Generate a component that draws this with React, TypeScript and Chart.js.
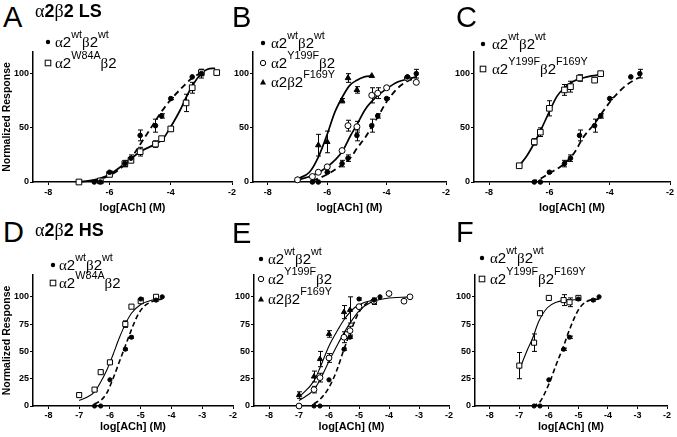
import React, { useEffect, useRef } from 'react';
import { Chart, registerables } from 'chart.js';

Chart.register(...registerables);

const FONT = "'Liberation Sans', Arial, Helvetica, sans-serif";
const SERIF = "'Liberation Serif', 'Times New Roman', serif";

// ---------- axis ranges & tick labels ----------
const X_MIN = -8.5;
const X_MAX = -2;
const Y_MIN = 0;
const Y_MAX = 120;
const TOP_X_TICKS = [-8, -6, -4, -2];
const BOTTOM_X_TICKS = [-8, -7, -6, -5, -4, -3, -2];
const TOP_Y_TICKS = [0, 50, 100];
const BOTTOM_Y_TICKS = [0, 25, 50, 75, 100];
const X_TITLE = 'log[ACh] (M)';
const Y_TITLE = 'Normalized Response';

// ---------- legend labels ----------
const LBL_WT = 'α2^{wt}β2^{wt}';
const LBL_W84A = 'α2^{W84A}β2';
const LBL_Y199F = 'α2^{Y199F}β2';
const LBL_F169Y = 'α2β2^{F169Y}';
const LBL_DM = 'α2^{Y199F}β2^{F169Y}';

// ---------- α2β2 LS : wild type (panels A, B, C) ----------
const LS_WT_X = [-6.5, -6.3, -6, -5.5, -5.3, -5, -4.5, -4.3, -4, -3.3, -3];
const LS_WT_Y = [0, 0, 9, 17, 22, 43, 52, 61, 77, 97, 100];
const LS_WT_ERR = [0, 0, 1, 3, 3, 5, 6, 2, 1, 0, 4];

// Panel A
const A_W84A_X = [-7, -6.3, -6, -5.5, -5.3, -5, -4.5, -4.3, -4, -3.5, -3.3, -3, -2.5];
const A_W84A_Y = [0, 1, 7, 17, 20, 28, 35, 40, 49, 73, 87, 101, 101];
const A_W84A_ERR = [0, 0, 1, 2, 2, 4, 3, 1, 2, 8, 5, 3, 0];
const A_WT_FIT_X = [-6.5, -6, -5.5, -5.2, -4.9, -4.6, -4.3, -4, -3.6, -3.3, -3];
const A_WT_FIT_Y = [1, 6, 16, 26, 39, 52, 65, 76, 88, 96, 101];
const A_W84A_FIT_X = [-7, -6.5, -6, -5.5, -5, -4.5, -4.25, -4, -3.7, -3.5, -3.25, -3, -2.8, -2.55];
const A_W84A_FIT_Y = [0, 2, 7, 17, 28, 35, 40, 51, 66, 78, 91, 100, 104, 105];

// Panel B
const B_Y199F_X = [-7, -6.5, -6.3, -6, -5.5, -5.3, -5, -4.5, -4.3, -4, -3.3, -3];
const B_Y199F_Y = [2, 5, 9, 14, 29, 52, 51, 80, 82, 87, 96, 92];
const B_Y199F_ERR = [0, 0, 1, 1, 1, 5, 5, 7, 5, 1, 0, 1];
const B_F169Y_X = [-7, -6.3, -6, -5.5, -5.3, -5, -4.5];
const B_F169Y_Y = [2, 34, 37, 75, 96, 85, 98];
const B_F169Y_ERR = [0, 10, 10, 2, 4, 3, 0];
const B_WT_FIT_X = [-6.5, -6, -5.5, -5.2, -5, -4.7, -4.5, -4.3, -4, -3.65, -3.3, -3];
const B_WT_FIT_Y = [1, 7, 16, 23, 31, 42, 51, 60, 74, 86, 93, 96];
const B_Y199F_FIT_X = [-7, -6.5, -6, -5.5, -5.23, -5, -4.72, -4.33, -4, -3.65, -3.3, -3];
const B_Y199F_FIT_Y = [2, 6, 14, 28, 42, 53, 67, 79, 86, 92, 95, 97];
const B_F169Y_FIT_X = [-7, -6.6, -6.3, -6, -5.75, -5.5, -5.25, -5, -4.75, -4.5];
const B_F169Y_FIT_Y = [3, 9, 23, 44, 64, 78, 89, 94, 97, 98];

// Panel C
const C_DM_X = [-7, -6.5, -6.3, -6, -5.5, -5.3, -5, -4.5, -4.3];
const C_DM_Y = [15, 37, 46, 68, 85, 88, 96, 94, 100];
const C_DM_ERR = [1, 3, 4, 7, 5, 5, 3, 0, 0];
const C_WT_FIT_X = [-6.6, -6.3, -6, -5.5, -5.15, -4.88, -4.5, -4.2, -3.87, -3.42, -3];
const C_WT_FIT_Y = [0, 3, 8, 17, 28, 41, 54, 66, 78, 90, 97];
const C_DM_FIT_X = [-7, -6.75, -6.5, -6.3, -6, -5.75, -5.5, -5.2, -4.9, -4.6, -4.3];
const C_DM_FIT_Y = [15, 24, 36, 47, 65, 79, 87, 93, 96, 98, 99];

// ---------- α2β2 HS : wild type (panels D, E, F) ----------
const HS_WT_X = [-6.5, -6.3, -6, -5.5, -5.3, -5, -4.5, -4.3];
const HS_WT_Y = [0, 0, 24, 52, 63, 98, 97, 100];
const HS_WT_ERR = [0, 0, 0, 1, 1, 1, 1, 0];

// Panel D
const D_W84A_X = [-7, -6.5, -6.3, -6, -5.5, -5.3, -5, -4.5];
const D_W84A_Y = [10, 15, 31, 40, 75, 91, 96, 100];
const D_W84A_ERR = [2, 1, 1, 1, 3, 1, 2, 1];
const D_WT_FIT_X = [-6.5, -6.3, -6.1, -5.9, -5.7, -5.5, -5.3, -5.1, -4.9, -4.6, -4.3];
const D_WT_FIT_Y = [2, 5, 12, 25, 40, 55, 70, 83, 91, 96, 98];
const D_W84A_FIT_X = [-7, -6.75, -6.5, -6.3, -6.1, -5.9, -5.7, -5.5, -5.3, -5, -4.75, -4.5];
const D_W84A_FIT_Y = [5, 8, 13, 22, 33, 47, 62, 75, 85, 93, 96, 98];

// Panel E
const E_Y199F_X = [-7, -6.5, -6.3, -6, -5.5, -5.3, -5, -4.5, -4, -3.5, -3.3];
const E_Y199F_Y = [0, 15, 26, 44, 63, 69, 91, 96, 103, 96, 100];
const E_Y199F_ERR = [0, 3, 4, 4, 5, 4, 2, 2, 0, 0, 0];
const E_F169Y_X = [-7, -6.5, -6.3, -6, -5.5, -5.3, -4.5];
const E_F169Y_Y = [10, 27, 43, 66, 86, 88, 96];
const E_F169Y_ERR = [3, 5, 7, 3, 6, 12, 3];
const E_WT_FIT_X = [-6.5, -6.3, -6, -5.75, -5.5, -5.27, -5, -4.7, -4.25];
const E_WT_FIT_Y = [2, 6, 17, 32, 52, 69, 86, 95, 99];
const E_Y199F_FIT_X = [-7, -6.5, -6.3, -6, -5.7, -5.5, -5.25, -5, -4.6, -4.1, -3.3];
const E_Y199F_FIT_Y = [5, 15, 24, 41, 57, 67, 78, 87, 95, 98.5, 100];
const E_F169Y_FIT_X = [-7, -6.5, -6.3, -6, -5.7, -5.5, -5.15, -4.8, -4.5];
const E_F169Y_FIT_Y = [8, 23, 35, 55, 70, 79, 90, 95, 97];

// Panel F
const F_DM_X = [-7, -6.5, -6.3, -6, -5.5, -5.3, -5];
const F_DM_Y = [37, 58, 85, 99, 97, 95, 99];
const F_DM_ERR = [12, 8, 1, 0, 5, 4, 0];
const F_WT_FIT_X = [-6.55, -6.3, -6, -5.75, -5.5, -5.3, -5, -4.7, -4.3];
const F_WT_FIT_Y = [0, 4, 20, 38, 55, 70, 88, 96, 98];
const F_DM_FIT_X = [-7, -6.75, -6.55, -6.35, -6.05, -5.75, -5.35, -5];
const F_DM_FIT_Y = [33, 50, 62, 77, 90, 95, 97, 97.5];

// ---------- types ----------
type Marker = 'dot' | 'square' | 'circle' | 'triangle';
type Series = { x: number[]; y: number[]; err: number[]; marker: Marker };
type Curve = { x: number[]; y: number[]; dashed: boolean };
type LegendRow = { marker: Marker; label: string };
type PanelCfg = {
  letter: string;
  title?: string;
  left: number; right: number; top: number; bottom: number;
  row: 'top' | 'bottom';
  yTitle: boolean;
  series: Series[];
  curves: Curve[];
  legend: LegendRow[];
  legendMarkerX: number;
  legendTextX: number;
  legendY: number[];
  letterX: number;
  letterY: number;
};

const PANELS: PanelCfg[] = [
  {
    letter: 'A', title: 'α2β2 LS', left: 33, right: 232, top: 52, bottom: 182, row: 'top', yTitle: true,
    series: [
      { x: LS_WT_X, y: LS_WT_Y, err: LS_WT_ERR, marker: 'dot' },
      { x: A_W84A_X, y: A_W84A_Y, err: A_W84A_ERR, marker: 'square' },
    ],
    curves: [
      { x: A_WT_FIT_X, y: A_WT_FIT_Y, dashed: true },
      { x: A_W84A_FIT_X, y: A_W84A_FIT_Y, dashed: false },
    ],
    legend: [{ marker: 'dot', label: LBL_WT }, { marker: 'square', label: LBL_W84A }],
    legendMarkerX: 48, legendTextX: 55, legendY: [42, 63], letterX: 3, letterY: 3,
  },
  {
    letter: 'B', left: 253, right: 446, top: 52, bottom: 182, row: 'top', yTitle: false,
    series: [
      { x: LS_WT_X, y: LS_WT_Y, err: LS_WT_ERR, marker: 'dot' },
      { x: B_Y199F_X, y: B_Y199F_Y, err: B_Y199F_ERR, marker: 'circle' },
      { x: B_F169Y_X, y: B_F169Y_Y, err: B_F169Y_ERR, marker: 'triangle' },
    ],
    curves: [
      { x: B_WT_FIT_X, y: B_WT_FIT_Y, dashed: true },
      { x: B_Y199F_FIT_X, y: B_Y199F_FIT_Y, dashed: false },
      { x: B_F169Y_FIT_X, y: B_F169Y_FIT_Y, dashed: false },
    ],
    legend: [
      { marker: 'dot', label: LBL_WT },
      { marker: 'circle', label: LBL_Y199F },
      { marker: 'triangle', label: LBL_F169Y },
    ],
    legendMarkerX: 263, legendTextX: 271, legendY: [43, 62.5, 82], letterX: 232, letterY: 3,
  },
  {
    letter: 'C', left: 474, right: 670, top: 52, bottom: 182, row: 'top', yTitle: false,
    series: [
      { x: LS_WT_X, y: LS_WT_Y, err: LS_WT_ERR, marker: 'dot' },
      { x: C_DM_X, y: C_DM_Y, err: C_DM_ERR, marker: 'square' },
    ],
    curves: [
      { x: C_WT_FIT_X, y: C_WT_FIT_Y, dashed: true },
      { x: C_DM_FIT_X, y: C_DM_FIT_Y, dashed: false },
    ],
    legend: [{ marker: 'dot', label: LBL_WT }, { marker: 'square', label: LBL_DM }],
    legendMarkerX: 483, legendTextX: 492, legendY: [44, 69], letterX: 456, letterY: 3,
  },
  {
    letter: 'D', title: 'α2β2 HS', left: 33, right: 233, top: 275, bottom: 406, row: 'bottom', yTitle: true,
    series: [
      { x: HS_WT_X, y: HS_WT_Y, err: HS_WT_ERR, marker: 'dot' },
      { x: D_W84A_X, y: D_W84A_Y, err: D_W84A_ERR, marker: 'square' },
    ],
    curves: [
      { x: D_WT_FIT_X, y: D_WT_FIT_Y, dashed: true },
      { x: D_W84A_FIT_X, y: D_W84A_FIT_Y, dashed: false },
    ],
    legend: [{ marker: 'dot', label: LBL_WT }, { marker: 'square', label: LBL_W84A }],
    legendMarkerX: 53, legendTextX: 59, legendY: [265, 283], letterX: 3, letterY: 218,
  },
  {
    letter: 'E', left: 254, right: 449, top: 275, bottom: 406, row: 'bottom', yTitle: false,
    series: [
      { x: HS_WT_X, y: HS_WT_Y, err: HS_WT_ERR, marker: 'dot' },
      { x: E_Y199F_X, y: E_Y199F_Y, err: E_Y199F_ERR, marker: 'circle' },
      { x: E_F169Y_X, y: E_F169Y_Y, err: E_F169Y_ERR, marker: 'triangle' },
    ],
    curves: [
      { x: E_WT_FIT_X, y: E_WT_FIT_Y, dashed: true },
      { x: E_Y199F_FIT_X, y: E_Y199F_FIT_Y, dashed: false },
      { x: E_F169Y_FIT_X, y: E_F169Y_FIT_Y, dashed: false },
    ],
    legend: [
      { marker: 'dot', label: LBL_WT },
      { marker: 'circle', label: LBL_Y199F },
      { marker: 'triangle', label: LBL_F169Y },
    ],
    legendMarkerX: 261, legendTextX: 268, legendY: [259, 279, 299], letterX: 232, letterY: 219,
  },
  {
    letter: 'F', left: 475, right: 667, top: 275, bottom: 406, row: 'bottom', yTitle: false,
    series: [
      { x: HS_WT_X, y: HS_WT_Y, err: HS_WT_ERR, marker: 'dot' },
      { x: F_DM_X, y: F_DM_Y, err: F_DM_ERR, marker: 'square' },
    ],
    curves: [
      { x: F_WT_FIT_X, y: F_WT_FIT_Y, dashed: true },
      { x: F_DM_FIT_X, y: F_DM_FIT_Y, dashed: false },
    ],
    legend: [{ marker: 'dot', label: LBL_WT }, { marker: 'square', label: LBL_DM }],
    legendMarkerX: 482, legendTextX: 490, legendY: [258, 279], letterX: 456, letterY: 218,
  },
];

// ---------- error bar plugin ----------
const errorBarPlugin = {
  id: 'errorBars',
  beforeDatasetsDraw(chart: any) {
    const { ctx, scales } = chart;
    const xs = scales.x;
    const ys = scales.y;
    ctx.save();
    ctx.strokeStyle = '#000';
    ctx.lineWidth = 1;
    chart.data.datasets.forEach((ds: any) => {
      if (!ds.errs) return;
      ds.data.forEach((p: any, i: number) => {
        const e = ds.errs[i];
        if (!e) return;
        const px = Math.round(xs.getPixelForValue(p.x)) + 0.5;
        const y1 = ys.getPixelForValue(p.y - e);
        const y2 = ys.getPixelForValue(p.y + e);
        const cap = 2.5;
        ctx.beginPath();
        ctx.moveTo(px, y1);
        ctx.lineTo(px, y2);
        ctx.moveTo(px - cap, y1);
        ctx.lineTo(px + cap, y1);
        ctx.moveTo(px - cap, y2);
        ctx.lineTo(px + cap, y2);
        ctx.stroke();
      });
    });
    ctx.restore();
  },
};

function markerStyle(m: Marker, bottom: boolean) {
  switch (m) {
    case 'dot':
      return { pointStyle: 'circle', pointRadius: bottom ? 2.1 : 2.3, bg: '#000' };
    case 'square':
      return { pointStyle: 'rect', pointRadius: bottom ? 3.6 : 4.0, bg: '#fff' };
    case 'circle':
      return { pointStyle: 'circle', pointRadius: bottom ? 2.9 : 3.0, bg: '#fff' };
    default:
      return { pointStyle: 'triangle', pointRadius: bottom ? 3.0 : 3.2, bg: '#000' };
  }
}

function Panel({ cfg }: { cfg: PanelCfg }) {
  const ref = useRef<HTMLCanvasElement>(null);
  const bottom = cfg.row === 'bottom';
  const wy = cfg.yTitle ? cfg.left : 22;
  const padTop = 10;
  const padRight = 12;
  const hx = bottom ? 29 : 34;
  const cw = wy + (cfg.right - cfg.left) + padRight;
  const ch = padTop + (cfg.bottom - cfg.top) + hx;
  const cl = cfg.left - wy;
  const ct = cfg.top - padTop;

  useEffect(() => {
    if (!ref.current) return;
    const datasets: any[] = [];
    cfg.curves.forEach((c) => {
      datasets.push({
        data: c.x.map((x, i) => ({ x, y: c.y[i] })),
        showLine: true,
        pointRadius: 0,
        borderColor: '#000',
        backgroundColor: '#000',
        borderWidth: c.dashed ? (bottom ? 1.6 : 1.8) : (bottom ? 1.1 : 1.7),
        borderDash: c.dashed ? (bottom ? [5, 3] : [6, 4]) : [],
        cubicInterpolationMode: 'monotone',
        fill: false,
        order: 2,
        clip: false,
      });
    });
    cfg.series.forEach((s) => {
      const st = markerStyle(s.marker, bottom);
      datasets.push({
        data: s.x.map((x, i) => ({ x, y: s.y[i] })),
        errs: s.err,
        showLine: false,
        pointStyle: st.pointStyle,
        pointRadius: st.pointRadius,
        pointBackgroundColor: st.bg,
        pointBorderColor: '#000',
        pointBorderWidth: 1,
        order: 1,
        clip: false,
      });
    });

    const xTicks = bottom ? BOTTOM_X_TICKS : TOP_X_TICKS;
    const yTicks = bottom ? BOTTOM_Y_TICKS : TOP_Y_TICKS;
    const tickFont = { family: FONT, size: 9, weight: 'bold' as const };

    const chart = new Chart(ref.current, {
      type: 'scatter',
      data: { datasets },
      options: {
        animation: false,
        responsive: false,
        maintainAspectRatio: false,
        events: [],
        layout: { padding: { left: 0, top: padTop, right: padRight, bottom: 0 } },
        plugins: { legend: { display: false }, tooltip: { enabled: false } },
        scales: {
          x: {
            type: 'linear',
            min: X_MIN,
            max: X_MAX,
            afterBuildTicks: (s: any) => {
              s.ticks = xTicks.map((v) => ({ value: v }));
            },
            afterFit: (s: any) => {
              s.height = hx;
            },
            grid: { display: true, drawOnChartArea: false, drawTicks: true, tickLength: 3, color: '#000', lineWidth: 1 },
            border: { display: true, color: '#000', width: 1.5 },
            ticks: {
              color: '#000',
              font: tickFont,
              padding: bottom ? 1 : 2,
              maxRotation: 0,
              autoSkip: false,
              callback: (v: any) => String(v),
            },
            title: {
              display: true,
              text: X_TITLE,
              color: '#000',
              font: { family: FONT, size: 11, weight: 'bold' },
              padding: { top: 0, bottom: 1 },
            },
          },
          y: {
            type: 'linear',
            min: Y_MIN,
            max: Y_MAX,
            afterBuildTicks: (s: any) => {
              s.ticks = yTicks.map((v) => ({ value: v }));
            },
            afterFit: (s: any) => {
              s.width = wy;
            },
            grid: { display: true, drawOnChartArea: false, drawTicks: true, tickLength: 3, color: '#000', lineWidth: 1 },
            border: { display: true, color: '#000', width: 1.5 },
            ticks: {
              color: '#000',
              font: tickFont,
              padding: 1,
              autoSkip: false,
              callback: (v: any) => String(v),
            },
            title: {
              display: cfg.yTitle,
              text: Y_TITLE,
              color: '#000',
              font: { family: FONT, size: 10.5, weight: 'bold' },
              padding: { top: 1, bottom: 0 },
            },
          },
        },
      } as any,
      plugins: [errorBarPlugin],
    });
    return () => chart.destroy();
  }, []);

  return (
    <canvas
      ref={ref}
      width={cw}
      height={ch}
      style={{ position: 'absolute', left: cl, top: ct, width: cw, height: ch }}
    />
  );
}

function renderLabel(label: string) {
  const parts = label.split(/(\^\{[^}]*\})/).filter((p) => p.length > 0);
  const out: any[] = [];
  parts.forEach((p, i) => {
    if (p.startsWith('^{')) {
      out.push(
        <span
          key={i}
          style={{ fontSize: '0.72em', position: 'relative', top: '-0.8em', fontFamily: FONT }}
        >
          {p.slice(2, -1)}
        </span>
      );
    } else {
      const chars = p.split(/([αβ])/).filter((c) => c.length > 0);
      chars.forEach((c, j) => {
        if (c === 'α' || c === 'β') {
          out.push(
            <span key={i + '-' + j} style={{ fontFamily: SERIF, fontWeight: 'normal' }}>
              {c}
            </span>
          );
        } else {
          out.push(<span key={i + '-' + j}>{c}</span>);
        }
      });
    }
  });
  return out;
}

function MarkerIcon({ m }: { m: Marker }) {
  return (
    <svg width={10} height={10} viewBox="0 0 10 10" style={{ display: 'block' }}>
      {m === 'dot' && <circle cx={5} cy={5} r={2.2} fill="#000" />}
      {m === 'square' && <rect x={2.2} y={2.2} width={5.6} height={5.6} fill="#fff" stroke="#000" strokeWidth={1} />}
      {m === 'circle' && <circle cx={5} cy={5} r={2.7} fill="#fff" stroke="#000" strokeWidth={1} />}
      {m === 'triangle' && <polygon points="5,2 8,7.5 2,7.5" fill="#000" />}
    </svg>
  );
}

function Overlay({ cfg }: { cfg: PanelCfg }) {
  const bottom = cfg.row === 'bottom';
  return (
    <>
      <div
        style={{
          position: 'absolute',
          left: cfg.letterX,
          top: cfg.letterY,
          fontFamily: FONT,
          fontSize: 29,
          lineHeight: '29px',
          color: '#000',
        }}
      >
        {cfg.letter}
      </div>
      {cfg.title && (
        <div
          style={{
            position: 'absolute',
            left: 35,
            top: bottom ? 221 : 2,
            fontFamily: FONT,
            fontWeight: 'bold',
            fontSize: 18,
            lineHeight: '18px',
            whiteSpace: 'nowrap',
            color: '#000',
          }}
        >
          {renderLabel(cfg.title)}
        </div>
      )}
      {cfg.legend.map((r, i) => (
        <React.Fragment key={i}>
          <div style={{ position: 'absolute', left: cfg.legendMarkerX - 5, top: cfg.legendY[i] - 5 }}>
            <MarkerIcon m={r.marker} />
          </div>
          <div
            style={{
              position: 'absolute',
              left: cfg.legendTextX,
              top: cfg.legendY[i] - 8,
              height: 16,
              lineHeight: '16px',
              fontFamily: FONT,
              fontSize: 15,
              whiteSpace: 'nowrap',
              color: '#000',
            }}
          >
            {renderLabel(r.label)}
          </div>
        </React.Fragment>
      ))}
    </>
  );
}

export default function App() {
  return (
    <div
      style={{
        position: 'fixed',
        left: 0,
        top: 0,
        width: 677,
        height: 437,
        background: '#fff',
        overflow: 'hidden',
      }}
    >
      {PANELS.map((p, i) => (
        <Panel key={i} cfg={p} />
      ))}
      {PANELS.map((p, i) => (
        <Overlay key={'o' + i} cfg={p} />
      ))}
    </div>
  );
}
